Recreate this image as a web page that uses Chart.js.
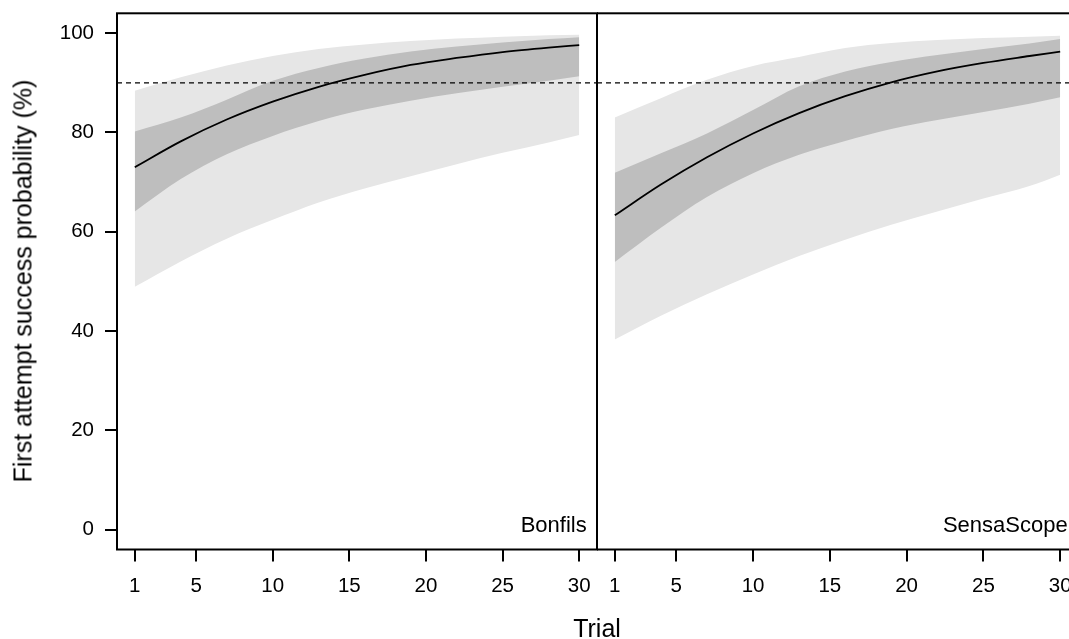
<!DOCTYPE html>
<html><head><meta charset="utf-8">
<script src="https://cdn.jsdelivr.net/npm/chart.js@4.4.1/dist/chart.umd.min.js"></script>
<style>
html,body{margin:0;padding:0;width:1069px;height:639px;overflow:hidden;background:#fff;}
canvas{position:absolute;top:0;}
#c1{left:0;} #c2{left:597px;}
.t{position:absolute;font-family:"Liberation Sans",Arial,sans-serif;font-size:25px;line-height:25px;color:#000;white-space:nowrap;}
</style></head><body>
<canvas id="c1" width="600" height="639"></canvas>
<canvas id="c2" width="481" height="639"></canvas>
<div class="t" style="left:22.6px;top:281.4px;transform:translate(-50%,-50%) rotate(-90deg);">First attempt success probability (%)</div>
<div class="t" style="left:597px;top:615.5px;transform:translateX(-50%);">Trial</div>
<script>
// ---- data ----
const trials = [1, 4, 7, 10, 13, 16, 19, 22, 25, 28, 30];
const xTicks = [1, 5, 10, 15, 20, 25, 30];
const yTicks = [0, 20, 40, 60, 80, 100];
const threshold = 90;

const bonfilsFit       = [73.0, 78.2, 82.6, 86.2, 89.2, 91.6, 93.6, 95.0, 96.2, 97.1, 97.6];
const bonfilsInnerLow  = [64.1, 70.6, 75.6, 79.3, 82.3, 84.6, 86.4, 87.9, 89.2, 90.4, 91.3];
const bonfilsInnerHigh = [80.2, 83.0, 86.6, 90.4, 93.0, 94.9, 96.3, 97.3, 98.1, 98.8, 99.2];
const bonfilsOuterLow  = [48.9, 54.0, 58.6, 62.4, 65.9, 68.7, 71.2, 73.6, 75.9, 78.0, 79.5];
const bonfilsOuterHigh = [88.4, 91.1, 93.5, 95.4, 96.8, 97.7, 98.4, 98.9, 99.3, 99.6, 99.7];

const sensaFit       = [63.3, 69.5, 75.0, 79.8, 83.9, 87.3, 90.1, 92.3, 94.0, 95.4, 96.3];
const sensaInnerLow  = [53.9, 60.8, 67.0, 71.8, 75.5, 78.3, 80.7, 82.5, 84.1, 85.8, 87.1];
const sensaInnerHigh = [71.9, 75.8, 79.8, 84.5, 89.3, 92.3, 94.2, 95.6, 96.8, 97.9, 98.8];
const sensaOuterLow  = [38.3, 43.1, 47.4, 51.4, 55.1, 58.4, 61.4, 64.1, 66.7, 69.2, 71.5];
const sensaOuterHigh = [83.0, 86.9, 90.6, 93.4, 95.2, 97.0, 98.0, 98.6, 99.0, 99.3, 99.5];

// ---- rendering ----
const FONT = '"Liberation Sans", Arial, sans-serif';
const LIGHT = '#e6e6e6', DARK = '#bebebe';
const mk = ys => trials.map((t, i) => ({x: t, y: ys[i]}));

const deco = {
  id: 'deco',
  afterDatasetsDraw(chart, args, opts) {
    const {ctx, chartArea: a, scales: {y}} = chart;
    ctx.save();
    const yy = y.getPixelForValue(threshold);
    ctx.beginPath();
    ctx.setLineDash([5, 4]);
    ctx.lineWidth = 1.2;
    ctx.strokeStyle = '#000';
    ctx.moveTo(a.left, yy); ctx.lineTo(a.right, yy);
    ctx.stroke();
    ctx.setLineDash([]);
    ctx.lineWidth = 2;
    ctx.strokeRect(a.left, a.top, a.right - a.left, a.bottom - a.top);
    ctx.font = '22px ' + FONT;
    ctx.fillStyle = '#000';
    ctx.textAlign = 'right';
    ctx.textBaseline = 'alphabetic';
    ctx.fillText(opts.label, a.right - 10.3, a.bottom - 17.8);
    ctx.restore();
  }
};

function band(data, fill, color, order) {
  return {data: mk(data), borderWidth: 0, borderColor: 'rgba(0,0,0,0)', pointRadius: 0,
    fill: fill, backgroundColor: color, order: order, cubicInterpolationMode: 'monotone'};
}

function makeChart(id, label, s, showY) {
  const gridOpts = {drawOnChartArea: false, drawTicks: true, tickLength: 12, color: '#000', lineWidth: 2};
  return new Chart(document.getElementById(id), {
    type: 'line',
    data: {datasets: [
      band(s.outerLow, false, LIGHT, 5),
      band(s.outerHigh, '-1', LIGHT, 4),
      band(s.innerLow, false, DARK, 3),
      band(s.innerHigh, '-1', DARK, 2),
      {data: mk(s.fit), borderColor: '#000', borderWidth: 1.8, pointRadius: 0, fill: false,
       order: 1, cubicInterpolationMode: 'monotone'}
    ]},
    options: {
      responsive: false, animation: false, devicePixelRatio: 1,
      layout: {padding: {top: 13.3, left: 0, right: showY ? 3 : 0, bottom: 0}},
      plugins: {legend: {display: false}, tooltip: {enabled: false}, deco: {label: label}},
      scales: {
        x: {type: 'linear', min: -0.16, max: 31.16,
          afterBuildTicks: sc => { sc.ticks = xTicks.map(v => ({value: v})); },
          afterFit: sc => { sc.height = 89.5; sc.paddingLeft = 0; sc.paddingRight = 0; },
          grid: gridOpts, border: {display: false},
          ticks: {autoSkip: false, maxRotation: 0, minRotation: 0, padding: 15, color: '#000',
                  font: {family: FONT, size: 20.5, lineHeight: 1}}},
        y: {type: 'linear', display: showY, min: -4, max: 104,
          afterBuildTicks: sc => { sc.ticks = yTicks.map(v => ({value: v})); },
          afterFit: sc => { sc.width = showY ? 117 : 0; sc.paddingTop = 0; sc.paddingBottom = 0; },
          grid: gridOpts, border: {display: false},
          ticks: {padding: 11, color: '#000', font: {family: FONT, size: 20.5, lineHeight: 1}}}
      }
    },
    plugins: [deco]
  });
}

makeChart('c1', 'Bonfils', {fit: bonfilsFit, innerLow: bonfilsInnerLow, innerHigh: bonfilsInnerHigh,
  outerLow: bonfilsOuterLow, outerHigh: bonfilsOuterHigh}, true);
makeChart('c2', 'SensaScope', {fit: sensaFit, innerLow: sensaInnerLow, innerHigh: sensaInnerHigh,
  outerLow: sensaOuterLow, outerHigh: sensaOuterHigh}, false);
</script>
</body></html>
